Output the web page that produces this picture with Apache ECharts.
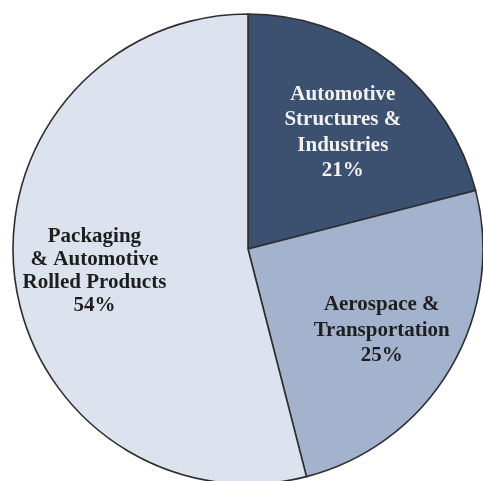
<!DOCTYPE html>
<html>
<head>
<meta charset="utf-8">
<script src="https://cdn.jsdelivr.net/npm/echarts@6/dist/echarts.min.js"></script>
<style>
  html, body { margin: 0; padding: 0; background: #ffffff; }
  #chart { width: 483px; height: 481px; }
</style>
</head>
<body>
<div id="chart"></div>
<script>
// Segment shares, clockwise from 12 o'clock
const segments = ['Automotive\nStructures &\nIndustries', 'Aerospace &\nTransportation', 'Packaging\n& Automotive\nRolled Products'];
const shares = [21, 25, 54];
const fills = ['#3c5070', '#a3b3cd', '#dde3ee'];
const labelColors = ['#f2f2f2', '#1e1e1e', '#1e1e1e'];
const lineHeights = [25.5, 25.5, 23.3];
// label nudges from the default inside position
const labelShift = [[21, -21], [30, 20], [-34, 7]];

const chart = echarts.init(document.getElementById('chart'), null, { renderer: 'canvas' });

chart.setOption({
  animation: false,
  series: [{
    type: 'pie',
    center: [248, 249],
    radius: [0, 235],
    startAngle: 90,
    clockwise: true,
    silent: true,
    itemStyle: { borderColor: '#2e2e2e', borderWidth: 1.6 },
    label: {
      show: true,
      position: 'inside',
      fontFamily: '"Liberation Serif", "Times New Roman", serif',
      fontWeight: 'bold',
      fontSize: 21,
      align: 'center',
      formatter: p => p.name + '\n' + p.value + '%'
    },
    labelLine: { show: false },
    labelLayout: p => ({ dx: labelShift[p.dataIndex][0], dy: labelShift[p.dataIndex][1] }),
    data: segments.map((name, i) => ({
      name: name,
      value: shares[i],
      itemStyle: { color: fills[i] },
      label: { color: labelColors[i], lineHeight: lineHeights[i] }
    }))
  }]
});
</script>
</body>
</html>
